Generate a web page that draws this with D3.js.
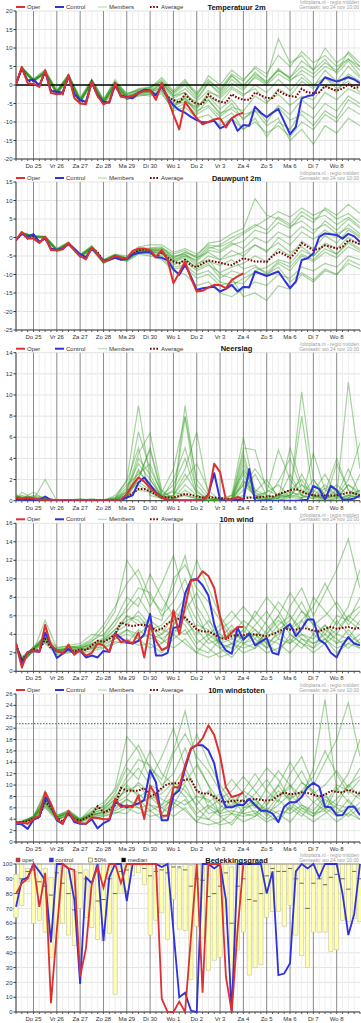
<!DOCTYPE html>
<html><head><meta charset="utf-8">
<script src="https://cdn.jsdelivr.net/npm/d3@7"></script>
<style>
body{margin:0;background:#fff}
svg{display:block;background:#fff}
text{font-family:"Liberation Sans",Arial,sans-serif}
</style>
</head><body>
<svg id="c" width="361" height="1023"></svg>
<script>
// ---------- DATA ----------
const hours = d3.range(0, 355, 6);                       // 60 six-hourly steps
const memberHours = [0].concat(d3.range(6, 355, 12));   // 31 steps for members
const dayHours = d3.range(18, 354, 24);
const dayLabels = ["Do 25","Vr 26","Za 27","Zo 28","Ma 29","Di 30","Wo 1","Do 2","Vr 3","Za 4","Zo 5","Ma 6","Di 7","Wo 8"];
const legendLabels = ["Oper","Control","Members","Average"];
const cloudLegendLabels = ["oper","control","50%","median"];
const titles = ["Temperatuur 2m","Dauwpunt 2m","Neerslag","10m wind","10m windstoten","Bedekkingsgraad"];
const creditLines = ["Infoplaza.nl - regio midden","Gemaakt: wo 24 nov 10:00"];

const tempOper = [0.2,4.9,0.5,0.3,-0.5,4.0,-2.2,-2.5,-2.3,2.7,-3.5,-5.0,-5.2,0.9,-3.0,-5.2,-4.5,0.5,-3.2,-3.4,-3.0,-2.2,-1.6,-1.5,-4.0,0.5,-3.6,-8.0,-12.0,-4.5,-6.8,-9.0,-10.6,-10.0,-9.3,-9.0,-11.5,-9.0,-8.0,-7.5];
const tempControl = [0.2,4.6,1.2,1.5,-0.2,3.6,-1.6,-1.8,-2.0,2.5,-2.5,-4.0,-4.6,0.8,-2.8,-4.5,-4.8,0.0,-3.0,-3.3,-3.6,-2.2,-1.3,-1.4,-2.8,-0.3,-3.5,-5.5,-6.8,-7.5,-8.6,-9.5,-10.1,-10.0,-9.7,-11.7,-11.0,-9.0,-12.4,-10.8,-11.0,-5.9,-7.5,-8.7,-7.5,-6.5,-9.9,-13.3,-11.3,-3.6,-3.0,-2.7,0.0,2.1,1.5,0.9,1.5,2.1,1.5,0.5];
const tempAvg = [0.3,4.5,1.0,1.2,0.0,3.5,-1.5,-2.0,-2.5,2.3,-2.5,-4.2,-4.8,0.8,-3.0,-4.7,-4.5,0.3,-3.0,-3.2,-3.2,-2.0,-1.5,-1.6,-3.0,-0.4,-3.2,-4.0,-4.8,-2.5,-4.2,-5.0,-5.2,-2.5,-3.8,-4.5,-4.8,-2.5,-3.5,-4.0,-4.0,-2.0,-2.8,-3.5,-3.5,-1.5,-2.5,-3.0,-3.2,-1.0,-2.0,-2.2,-2.0,-0.3,-1.0,-1.5,-1.0,0.2,-0.8,-0.5];
const tempMembers = [
[0.2,4.8,1.0,3.8,-2.3,2.0,-4.5,1.2,-5.0,0.6,-3.5,-1.8,-2.0,0.5,-3.0,-1.0,-4.0,0.5,-2.0,2.5,0.0,3.0,1.0,4.0,2.0,5.0,3.0,6.0,4.0,7.0,5.0],
[0.4,4.2,1.5,3.2,-1.8,2.8,-3.8,0.2,-4.2,-0.5,-3.8,-3.0,-2.5,-2.0,-7.0,-6.0,-9.0,-8.0,-11.0,-9.0,-12.0,-10.0,-13.0,-11.0,-14.0,-10.0,-12.0,-8.0,-10.0,-6.0,-8.0],
[0.3,4.6,1.3,3.0,-2.5,1.8,-5.0,1.5,-4.0,1.5,-2.5,-1.0,-0.5,1.0,-2.0,0.5,-2.5,1.0,-1.0,3.0,1.0,5.0,3.0,8.0,5.0,9.0,6.0,8.0,5.0,7.0,4.0],
[0.1,4.3,0.8,3.6,-2.0,2.5,-4.0,0.5,-5.5,-0.8,-4.0,-2.5,-3.0,-1.5,-6.0,-3.5,-7.5,-4.0,-8.0,-5.0,-9.5,-6.0,-10.0,-5.5,-8.0,-4.0,-6.5,-2.0,-4.0,-1.0,-2.5],
[0.5,4.9,1.6,4.2,-1.5,3.0,-3.5,1.6,-3.8,0.8,-2.2,-1.5,-0.8,2.0,-1.5,1.5,-3.0,2.5,0.0,4.0,1.5,4.5,2.0,12.5,6.0,8.0,4.0,7.0,3.0,6.5,2.5],
[0.2,4.4,1.1,3.3,-2.2,2.1,-4.4,0.6,-4.9,0.0,-3.4,-2.2,-1.8,-1.0,-5.0,-4.0,-7.0,-5.5,-8.5,-6.0,-7.0,-3.0,-5.0,-1.0,-3.0,1.0,-1.0,2.0,0.0,3.0,1.0],
[0.3,4.7,1.4,3.7,-1.9,2.6,-4.1,1.0,-4.5,0.4,-3.0,-2.1,-1.4,0.0,-3.5,-2.0,-6.0,-3.0,-6.5,-4.0,-8.0,-7.0,-11.0,-9.0,-15.0,-12.0,-16.0,-11.0,-13.0,-9.0,-11.0],
[0.3,4.5,1.2,3.4,-2.1,2.2,-4.3,0.7,-4.8,0.2,-3.1,-1.7,-1.2,0.5,-2.5,0.0,-3.5,0.5,-2.5,1.5,-1.0,2.0,0.0,3.0,1.0,4.0,2.0,5.0,3.5,9.0,6.0],
[0.2,4.1,0.9,3.1,-2.6,1.9,-4.8,0.1,-5.3,-0.4,-3.9,-2.8,-2.4,-2.5,-6.5,-5.0,-8.0,-6.0,-9.5,-7.5,-12.0,-9.0,-14.0,-10.0,-12.0,-7.0,-9.0,-5.0,-7.0,-3.0,-5.0],
[0.4,4.6,1.3,3.6,-1.7,2.4,-3.9,1.1,-4.4,0.7,-2.8,-1.2,-1.0,1.5,-2.0,1.0,-2.0,1.5,-1.5,2.5,-0.5,3.5,0.5,4.5,1.5,3.0,0.0,2.0,-1.0,1.0,-2.0],
[0.3,4.3,1.0,3.5,-2.4,2.0,-4.6,0.4,-4.6,0.1,-3.6,-2.4,-2.2,-1.5,-5.5,-4.5,-6.0,-3.0,-5.0,-1.0,-3.0,0.0,-2.0,1.5,-1.5,2.0,-0.5,4.0,1.0,5.0,2.0],
[0.2,4.8,1.5,3.9,-1.6,2.7,-3.6,1.3,-4.1,0.9,-2.6,-1.4,-0.6,0.8,-3.0,-2.0,-5.5,-4.0,-7.5,-6.5,-9.0,-7.0,-8.5,-6.0,-9.5,-8.0,-11.0,-7.0,-9.0,-4.0,-6.0],
[0.4,4.5,1.2,3.4,-2.0,2.3,-4.2,0.9,-4.7,0.5,-3.3,-2.0,-1.5,-0.5,-4.5,-3.0,-4.5,-1.5,-3.5,-0.5,-2.5,-1.0,-4.5,-2.5,-5.5,-3.0,-4.0,0.0,-2.0,2.5,0.5],
[0.3,4.4,1.1,3.2,-2.2,2.4,-4.4,0.6,-4.9,0.3,-3.3,-2.3,-1.9,-0.8,-5.5,-3.5,-6.5,-2.0,-3.0,0.5,-1.5,2.5,0.5,4.0,2.0,6.5,4.0,10.0,6.0,8.5,5.0]
];

const dewOper = [-0.7,1.5,-0.3,-0.3,-1.5,0.2,-3.4,-3.5,-3.2,-1.5,-3.4,-5.0,-5.9,-2.7,-4.5,-6.6,-6.0,-5.0,-5.5,-5.7,-3.6,-3.0,-3.0,-3.4,-5.3,-3.4,-6.1,-12.4,-9.5,-6.5,-11.0,-14.6,-14.4,-13.5,-12.8,-12.9,-13.7,-11.5,-10.5,-9.7];
const dewControl = [-0.7,1.0,0.2,0.9,-1.2,-0.3,-3.0,-3.4,-3.0,-1.8,-3.0,-4.5,-5.3,-3.0,-4.5,-6.3,-6.0,-5.5,-6.0,-5.8,-4.6,-4.2,-4.0,-4.0,-5.3,-5.5,-6.1,-8.6,-10.1,-7.4,-10.5,-14.2,-13.7,-13.5,-13.3,-14.6,-13.9,-12.8,-14.6,-13.3,-13.5,-9.2,-9.8,-10.4,-9.8,-9.2,-11.5,-13.7,-11.9,-6.1,-5.6,-4.3,0.2,1.1,0.9,0.7,-0.3,1.0,0.3,-1.2];
const dewAvg = [-0.7,1.2,-0.3,0.3,-1.3,0.0,-3.2,-3.4,-3.2,-1.6,-3.2,-5.0,-5.6,-2.8,-4.0,-6.5,-6.0,-5.0,-5.6,-5.8,-4.5,-3.5,-3.2,-3.6,-5.3,-4.0,-5.5,-6.5,-7.0,-6.0,-7.5,-8.0,-7.0,-6.2,-6.5,-6.8,-7.2,-7.5,-6.5,-5.6,-6.0,-6.5,-6.5,-6.6,-5.0,-3.9,-4.5,-5.6,-4.0,-1.5,-2.5,-3.4,-3.0,-2.1,-2.5,-3.0,-2.5,-0.7,-1.2,-1.8];
const dewMembers = [
[-0.6,1.4,0.5,0.3,-3.0,-1.2,-4.6,-2.2,-6.0,-4.5,-5.0,-2.5,-2.0,-2.0,-4.0,-3.0,-4.5,-2.0,-2.5,-1.0,1.0,3.0,5.0,7.0,5.5,8.0,6.0,7.5,5.0,6.5,4.0],
[-0.8,1.0,0.1,-0.3,-3.8,-2.0,-5.4,-3.3,-7.0,-5.5,-6.5,-4.5,-5.0,-6.0,-9.0,-10.0,-13.0,-12.0,-15.0,-16.0,-14.0,-12.0,-13.0,-10.0,-11.0,-8.0,-9.0,-7.0,-8.0,-5.0,-6.0],
[-0.7,1.3,0.4,0.2,-3.2,-1.4,-4.8,-2.6,-6.2,-4.8,-5.5,-3.0,-2.8,-2.5,-5.5,-4.0,-5.0,-1.5,-1.0,1.0,2.5,10.5,6.0,5.0,3.0,4.5,2.0,3.5,1.0,2.5,0.5],
[-0.7,1.1,0.2,-0.2,-3.5,-1.8,-5.2,-3.0,-6.8,-5.2,-6.0,-4.0,-4.2,-5.0,-8.0,-7.5,-10.0,-9.0,-12.0,-13.0,-11.0,-9.5,-10.0,-7.0,-9.0,-5.0,-6.5,-4.0,-5.5,-2.5,-4.0],
[-0.6,1.2,0.3,0.1,-3.3,-1.5,-4.9,-2.7,-6.3,-5.0,-5.8,-3.2,-3.5,-3.5,-6.0,-4.5,-6.5,-3.5,-4.0,-2.0,-1.0,2.0,1.0,4.0,2.5,6.0,4.0,8.0,6.0,9.0,6.5],
[-0.8,1.2,0.4,0.0,-3.6,-1.7,-5.1,-2.9,-6.7,-5.3,-6.2,-3.8,-3.8,-4.5,-7.0,-6.5,-9.0,-7.5,-9.5,-8.0,-7.0,-5.0,-6.5,-3.0,-5.0,-1.0,-3.0,0.5,-1.5,2.0,0.0],
[-0.7,1.3,0.3,0.2,-3.1,-1.6,-4.7,-2.5,-6.1,-4.7,-5.6,-3.3,-3.2,-3.0,-5.0,-4.5,-7.0,-6.0,-10.0,-11.0,-16.0,-15.0,-17.0,-13.0,-14.0,-10.0,-12.0,-9.0,-10.0,-7.0,-8.5],
[-0.6,1.1,0.2,0.1,-3.4,-1.6,-5.0,-2.8,-6.4,-4.9,-5.9,-3.6,-3.7,-3.8,-6.5,-5.0,-6.0,-3.0,-2.0,0.0,1.5,3.5,2.0,5.5,3.5,7.0,5.0,6.0,3.5,5.5,3.0],
[-0.7,1.0,0.1,-0.1,-3.7,-1.9,-5.3,-3.1,-6.9,-5.4,-6.3,-4.2,-4.5,-5.5,-8.5,-8.0,-11.0,-10.0,-13.0,-12.0,-12.5,-9.0,-8.0,-6.0,-7.0,-3.5,-5.0,-1.5,-3.0,0.0,-2.0],
[-0.7,1.3,0.4,0.3,-3.2,-1.3,-4.8,-2.4,-6.1,-4.6,-5.4,-3.0,-3.0,-2.8,-4.5,-3.5,-5.5,-4.0,-6.0,-5.0,-4.0,-2.0,-3.5,-1.5,-4.0,-2.5,-5.0,-2.0,-4.5,-1.5,-3.5],
[-0.8,1.2,0.3,0.0,-3.5,-1.6,-5.0,-2.8,-6.6,-5.0,-6.0,-3.5,-4.0,-4.2,-7.5,-6.0,-8.0,-6.5,-7.5,-6.0,-8.5,-7.5,-10.0,-8.0,-12.0,-9.5,-11.5,-8.5,-10.0,-6.0,-7.5],
[-0.6,1.3,0.4,0.2,-3.2,-1.4,-4.8,-2.6,-6.2,-4.7,-5.7,-3.4,-3.3,-3.2,-5.5,-4.0,-5.5,-2.5,-3.5,-1.5,-3.0,0.0,-1.5,1.5,0.0,3.0,1.0,4.5,2.0,5.0,2.5],
[-0.7,1.2,0.3,0.1,-3.4,-1.6,-5.0,-2.8,-6.5,-5.0,-5.9,-3.6,-3.8,-4.0,-6.5,-5.5,-8.5,-7.0,-11.0,-9.0,-10.0,-8.0,-9.5,-6.5,-8.0,-4.5,-6.0,-3.0,-4.5,-1.0,-3.0],
[-0.7,1.1,0.2,0.0,-3.4,-1.7,-5.1,-2.9,-6.6,-5.1,-6.0,-3.7,-3.5,-3.5,-6.0,-5.0,-7.5,-5.0,-6.0,-3.5,-5.0,-2.0,-4.0,0.0,-2.0,1.5,-0.5,2.0,0.0,3.5,1.0]
];

const rainOper = [0.3,0.2,0.3,0.2,0.1,0.1,0.1,0.05,0.05,0.05,0.05,0.05,0.05,0.05,0.05,0.05,0.05,0.05,0.1,0.6,1.5,2.2,1.8,1.2,0.7,0.3,0.1,0.05,0.05,0.05,0.05,0.05,0.1,0.5,3.5,2.7,0.1,0.1,0.35,0.15];
const rainControl = [0.1,0.1,0.05,0.05,0.05,0.4,0.05,0,0,0,0,0,0,0,0,0,0,0,0.05,0.3,0.5,1.7,2.2,1.5,0.8,0.3,0.1,0.05,0,0,0,0,0.05,0.6,2.6,0.1,0,0,0.1,0.1,3.0,0,0,0.05,0,0,0,0,0,0.05,0.1,1.4,1.1,0.1,1.4,1.0,0.1,0.1,0.2,0.5];
const rainAvg = [0.15,0.15,0.15,0.15,0.1,0.1,0.1,0.05,0.05,0.05,0.05,0.05,0.05,0.05,0.05,0.05,0.05,0.05,0.1,0.3,0.7,1.1,1.1,0.9,0.6,0.35,0.3,0.3,0.45,0.65,0.55,0.4,0.3,0.3,0.3,0.25,0.2,0.15,0.1,0.2,0.3,0.3,0.35,0.4,0.4,0.6,0.8,1.0,1.1,0.9,0.6,0.5,0.5,0.5,0.5,0.5,0.6,0.8,0.7,0.5];
const rainMembers = [
[0.3,0.2,0.1,0,0,0,0,0,0,0.1,0.5,3.0,1.2,0.3,0.5,2.5,0.8,0.2,0,0.1,0.5,0.2,0.8,1.5,0.3,2.5,0.5,0.2,1.0,0.3,0.5],
[0.5,0.3,0.2,0.1,0,0,0,0,0,0.2,2.0,9.0,2.0,0.5,1.5,4.0,0.5,0,0,0.3,1.5,0.5,0.2,0,0.5,10.3,2.0,0.5,0.3,1.5,0.5],
[0.1,0.8,0.2,0,0,0.1,0,0,0,0,0.8,4.5,6.4,1.0,0.2,0,0,0,0.2,0.5,6.0,0.8,0.2,1.8,4.0,1.0,0.5,0,0.2,0.5,1.0],
[0.2,0.1,0.5,0.3,0,0,0,0,0.1,0.3,1.5,2.5,3.5,0.5,0.2,9.0,1.5,0.2,0,0,2.0,0.3,0,0.5,1.0,0.2,4.5,1.0,0.3,0.2,2.5],
[0.4,0.2,0.1,0,0,0,0.2,0,0,0,0.3,2.0,5.0,0.8,3.0,8.0,2.0,0.5,0,0,3.0,1.0,0.5,0.3,0.5,0.3,0.5,1.5,0.5,11.2,3.0],
[0.3,0.4,0.3,0.2,0,0,0,0,0,0.1,1.0,1.5,0.8,0.2,0,0,0.1,0,0,0.2,4.5,0.5,0.8,4.8,2.0,0.5,0.2,0,3.5,1.0,0.2],
[0.2,0.3,0.1,0,0,0,0,0,0,0.2,0.5,4.0,2.5,0.3,1.0,3.0,6.5,0.5,0,0,1.0,2.5,0.5,0.2,5.0,1.5,0.3,0.2,0,0.5,0.3],
[0.6,0.2,0.8,0.1,0,0,0,0.2,0,0,0.2,2.8,1.5,0.5,0.8,0.5,0.2,0,0,0.1,2.5,0.2,0,0.5,0.5,1.5,0.8,2.5,0.5,0,0.5],
[0.3,0.2,0.2,0.1,0.1,0,0,0,0,0.5,1.8,5.0,0.5,0.2,0,7.9,0.5,0,0,0,3.5,0.3,0.2,0.2,0.5,8.0,0.5,0.3,0.2,1.5,0.8],
[0.2,0.2,0.1,2.0,0,0,0,0,0,0,0.5,1.0,0.8,0.2,0.5,2.0,3.5,1.0,0,0.2,5.0,4.8,1.0,0.5,0.3,0.2,1.0,0.3,0.5,2.0,5.5],
[0.4,0.3,0.2,0.1,0,0,0,0,0,0.2,1.2,3.5,2.0,0.3,0.2,0.5,0.2,0,0.3,0,4.0,0.5,0.3,0.2,2.5,0.5,0.2,0.8,4.0,1.0,0.5],
[0.2,0.1,0.3,0.2,0,0,0,0,0,0,0.3,2.2,4.8,0.5,0,1.0,0.3,0,0,0.5,2.8,0.3,0,0,0.3,0.8,0.5,0.2,0.5,3.0,0.5],
[0.3,0.5,0.2,0.1,0,0,0,0,0,0.1,0.8,1.8,1.0,0.2,2.0,5.0,1.0,0,0,0,1.5,3.0,1.5,0.5,1.0,2.0,0.3,1.2,0.5,0.2,1.0],
[0.5,0.2,0.4,0.2,0,0,0,0,0,0.3,0.8,6.5,3.0,0.8,0.2,1.5,0.5,0.2,0,0,1.8,0.8,2.0,0.3,0.8,0.5,2.0,0.5,1.5,0.5,0.3]
];

const windOper = [3.0,0.4,2.1,2.2,2.1,5.0,2.8,2.25,1.9,2.9,1.8,2.3,1.7,2.0,3.0,2.8,2.1,4.0,3.15,3.3,3.0,4.2,1.5,5.0,3.3,2.3,2.6,6.6,4.0,7.0,9.8,9.9,10.8,10.3,9.0,5.9,3.5,4.2,4.8,4.8];
const windControl = [3.0,0.8,2.1,2.2,2.1,4.2,2.8,1.45,1.9,2.4,1.9,2.25,1.5,1.7,1.5,2.2,2.1,4.1,3.6,3.1,3.0,3.3,4.0,6.2,1.7,1.7,2.0,4.7,4.8,8.4,9.85,10.0,9.3,8.2,5.1,3.2,2.25,1.9,4.7,3.4,4.1,2.8,3.2,3.6,2.0,1.8,4.6,5.1,3.8,4.6,5.6,5.6,3.4,3.0,2.0,1.5,2.8,3.7,3.0,2.8];
const windAvg = [2.8,1.2,2.0,2.4,2.2,3.5,2.5,2.2,2.0,2.4,2.1,2.4,2.3,2.8,3.3,3.2,3.5,4.0,5.3,5.0,4.9,5.0,5.0,4.8,4.4,4.6,5.2,5.5,5.7,5.8,5.2,4.5,4.3,4.3,4.0,3.6,3.5,3.8,3.9,3.9,4.0,4.0,3.9,3.8,4.0,4.3,4.6,4.5,4.5,4.7,4.6,4.4,4.3,4.6,4.8,4.6,4.7,4.8,4.6,4.7];
const windMembers = [
[2.9,0.8,2.3,4.0,2.0,2.6,2.8,3.5,5.0,7.0,9.5,11.0,8.0,6.5,9.0,12.5,7.0,5.0,3.0,2.5,4.0,6.5,5.0,3.5,7.0,9.0,6.0,8.5,11.0,14.3,9.0],
[2.7,1.5,2.5,3.2,2.4,2.2,2.0,2.2,2.5,3.0,3.5,2.8,3.0,2.0,3.5,4.5,2.5,2.0,3.5,5.0,3.0,2.5,4.5,6.0,4.0,3.0,2.5,3.5,2.5,3.0,4.0],
[2.8,1.0,2.2,5.5,2.5,2.8,3.0,4.0,3.8,5.5,8.0,7.0,10.5,8.0,6.0,8.0,12.0,9.0,6.0,4.0,3.5,5.0,6.5,4.5,5.5,7.5,5.0,6.0,7.5,5.5,8.0],
[3.0,1.3,2.6,3.0,1.8,2.0,2.2,2.5,3.5,4.5,6.0,5.5,4.0,3.0,4.0,3.0,2.0,3.5,2.5,1.5,3.0,4.0,2.5,4.5,3.0,5.5,4.0,3.0,5.5,4.0,3.0],
[2.6,1.1,2.4,3.6,2.3,2.5,2.6,3.2,4.5,6.5,12.0,10.0,7.0,9.5,12.5,8.0,5.5,4.0,5.0,6.5,5.0,3.5,5.5,7.5,6.0,4.5,8.0,6.5,5.0,7.0,11.0],
[2.8,1.4,2.1,3.4,2.1,2.3,2.4,2.6,3.0,3.5,4.0,3.5,2.5,3.0,5.0,6.5,8.5,6.0,2.5,3.0,2.0,2.5,3.5,3.0,2.0,3.5,2.5,4.5,3.5,2.5,3.5],
[2.9,1.2,2.7,3.8,2.6,2.7,2.5,3.0,3.6,5.0,7.0,9.0,8.5,6.0,7.5,10.0,6.5,3.5,4.5,5.5,7.0,5.5,4.0,6.0,8.5,6.5,5.0,3.5,4.5,6.0,5.0],
[2.7,0.9,2.3,3.3,2.0,2.1,2.3,2.4,2.8,3.5,4.5,4.0,5.0,3.5,2.5,3.5,2.0,1.5,2.0,3.0,4.5,3.0,2.0,2.5,3.5,2.5,4.0,5.0,3.0,3.5,2.5],
[2.8,1.6,2.5,3.7,2.2,2.6,2.7,3.3,4.0,5.5,6.5,8.0,6.0,5.5,10.0,11.5,9.0,7.5,5.5,3.5,4.5,6.0,8.0,6.5,4.5,5.5,7.0,9.5,7.0,5.0,6.5],
[3.0,1.0,2.2,3.1,2.3,2.4,2.1,2.5,2.6,3.2,3.0,4.5,3.5,4.0,6.0,5.0,3.0,4.0,3.0,4.5,3.5,4.5,3.0,4.0,5.0,3.5,3.0,4.0,3.0,4.5,3.0],
[2.9,1.3,2.6,3.5,2.2,2.5,2.4,2.9,3.3,4.5,5.5,6.0,4.5,5.0,6.5,5.5,4.0,5.5,4.0,3.0,2.5,3.0,4.0,5.5,4.5,6.5,5.5,4.0,6.0,5.5,4.5],
[2.7,1.2,2.4,3.9,2.1,2.3,2.5,3.0,3.4,4.0,6.0,5.0,5.5,4.5,4.0,6.0,3.5,2.5,1.5,2.0,3.5,4.0,3.0,2.0,4.0,3.0,2.0,3.0,4.0,3.5,5.5],
[2.8,1.1,2.5,3.4,2.4,2.6,2.6,2.8,3.1,4.2,5.0,6.5,5.0,4.0,5.0,7.5,4.5,3.0,3.5,4.0,5.5,4.5,3.5,5.0,6.0,4.0,3.5,5.0,4.0,6.0,7.0],
[2.8,1.4,2.3,3.6,2.3,2.4,2.3,2.7,3.2,3.8,4.5,3.5,4.0,3.5,4.5,4.0,5.0,4.5,3.0,3.5,3.0,3.5,2.5,3.5,3.0,4.0,3.0,3.5,2.0,3.0,2.5]
];

const gustOper = [3.3,3.4,3.2,4.05,4.6,8.75,6.7,4.05,3.2,5.5,3.8,3.3,3.2,4.3,4.2,4.0,4.0,7.6,6.1,6.4,6.1,8.2,4.05,9.9,8.2,4.6,4.6,9.6,9.6,13.5,16.4,17.0,18.2,20.5,18.8,15.2,9.6,7.9,8.2,8.7];
const gustControl = [3.2,3.1,2.3,3.9,4.4,7.9,6.5,3.8,3.2,5.3,3.5,3.2,3.2,4.0,2.4,3.3,3.8,7.0,6.5,6.1,6.4,6.8,7.4,12.6,10.5,3.8,3.8,8.2,9.1,12.9,16.4,17.0,17.0,16.1,13.8,8.75,6.1,6.1,6.5,6.5,7.6,6.5,5.5,5.5,5.0,3.5,6.2,7.0,7.0,7.9,9.6,10.4,9.7,6.2,6.1,4.7,4.7,6.2,6.2,4.7];
const gustAvg = [3.4,3.5,3.6,4.2,4.3,7.2,6.0,4.3,3.6,5.0,4.0,3.8,4.2,4.8,6.3,5.2,5.6,6.5,9.5,9.0,9.0,9.0,9.5,8.0,8.5,9.5,10.2,10.3,10.3,11.0,11.0,9.0,8.5,8.5,8.0,7.2,7.0,7.2,7.3,7.2,7.4,7.6,7.4,7.3,7.4,8.2,8.7,8.4,8.5,8.7,8.6,8.3,8.0,8.3,9.0,8.8,8.7,9.2,8.8,8.5];
const gustMembers = [
[3.5,3.6,4.5,8.0,4.5,5.5,4.0,5.5,7.0,9.0,14.0,17.0,13.0,11.0,16.0,23.0,14.0,10.0,7.0,6.0,9.0,12.0,9.0,7.0,12.0,15.0,10.0,14.0,18.0,24.5,15.0],
[3.3,3.4,4.0,6.5,4.0,4.5,3.5,4.0,4.5,5.0,6.0,5.0,5.5,4.0,6.0,7.5,4.5,4.0,6.0,8.0,5.0,4.5,7.5,10.0,7.0,5.5,4.5,6.0,4.5,5.0,7.0],
[3.4,3.5,4.3,9.0,4.8,5.2,4.0,6.0,6.0,8.5,13.0,11.0,16.0,12.0,10.0,13.0,19.0,14.0,10.0,7.0,6.5,8.5,11.0,8.0,9.5,12.5,8.5,10.0,12.5,9.5,13.0],
[3.6,3.3,4.6,6.0,3.8,4.8,3.6,4.5,5.5,7.0,9.5,8.5,6.5,5.0,7.0,5.5,3.5,6.0,4.5,3.0,5.5,7.0,4.5,7.5,5.5,9.0,7.0,5.5,9.5,7.0,5.5],
[3.2,3.5,4.1,7.5,4.4,5.0,3.7,5.2,6.5,9.5,18.5,16.0,11.0,15.0,20.0,13.0,9.0,7.0,8.5,11.0,8.5,6.0,9.5,12.5,10.0,8.0,13.0,25.0,9.0,12.0,18.0],
[3.4,3.7,4.4,6.8,4.2,5.3,3.9,4.9,5.0,5.5,6.5,6.0,4.5,5.0,8.5,10.5,13.5,10.0,4.5,5.0,3.5,4.5,6.0,5.0,3.5,6.0,4.5,7.5,6.0,4.5,6.0],
[3.5,3.4,4.2,7.8,4.6,5.6,4.1,5.0,5.8,7.5,11.5,14.5,13.5,10.0,12.0,16.5,11.0,6.0,7.5,9.0,11.5,9.0,6.5,10.0,14.0,10.5,8.5,6.0,7.5,10.0,8.0],
[3.3,3.6,3.9,6.2,4.1,4.7,3.6,4.4,4.8,5.8,7.5,6.5,8.0,6.0,4.5,6.0,3.5,3.0,3.5,5.0,7.5,5.0,3.5,4.5,6.0,4.5,7.0,8.5,5.0,6.0,4.0],
[3.4,3.5,4.5,8.5,4.3,5.4,3.8,5.3,6.2,8.0,10.5,13.0,10.0,9.0,15.5,19.0,15.0,12.5,9.0,6.0,7.5,10.0,13.0,11.0,7.5,9.0,11.5,16.0,12.0,8.5,11.0],
[3.6,3.3,4.0,6.6,4.4,4.9,3.5,4.6,4.6,5.2,5.0,7.5,5.5,6.5,10.0,8.0,5.0,6.5,5.0,7.5,6.0,7.5,5.0,6.5,8.5,6.0,5.0,6.5,5.0,7.5,5.0],
[3.5,3.5,4.3,7.0,4.3,5.0,3.9,5.0,5.7,7.5,9.0,10.0,7.5,8.5,10.5,9.0,6.5,9.0,6.5,5.0,4.5,5.0,6.5,9.0,7.5,10.5,9.0,6.5,10.0,9.0,7.5],
[3.3,3.4,4.2,7.6,4.0,4.8,3.8,4.7,5.3,6.5,10.0,8.0,9.0,7.5,6.5,10.0,6.0,4.0,3.0,3.5,6.0,6.5,5.0,3.5,6.5,5.0,3.5,5.0,6.5,6.0,9.0],
[3.4,3.6,4.1,6.9,4.5,5.1,3.8,4.8,5.0,6.8,8.0,10.5,8.5,6.5,8.0,12.0,7.5,5.0,5.5,6.5,9.0,7.5,5.5,8.0,10.0,6.5,5.5,8.0,6.5,10.0,11.5],
[3.4,3.5,4.4,7.3,4.2,5.2,3.7,4.9,5.2,6.2,7.5,6.0,6.5,6.0,7.5,6.5,8.0,7.5,5.0,5.5,5.0,5.5,4.0,5.5,5.0,6.5,5.0,5.5,3.5,5.0,4.0]
];
const gustThreshold = [20.8];

const cloudOper = [80,87,90,100,71,94,6,55,100,97,96,24,43,87,98,84,100,100,87,100,100,100,100,100,100,9,0,0,7,0,50,100,13,100,100,100,24,0,55,100];
const cloudControl = [71,89,91,100,95,89,47,100,100,97,76,19,91,87,100,48,91,100,100,75,100,100,100,100,100,98,100,55,10,13,1,0,100,100,97,100,76,0,100,100,100,100,100,80,95,25,26,33,95,100,97,100,91,100,100,100,80,52,66,100];
const cloudQ75 = [93,100,97,100,100,97,91,100,100,100,95,100,96,100,100,100,100,100,100,100,100,100,100,100,97,100,100,100,97,100,99,100,100,100,100,100,100,98,100,100,100,100,100,100,100,100,100,100,100,100,100,100,100,100,100,100,100,100,100,100];
const cloudQ25 = [64,72,88,60,62,54,37,50,60,52,45,70,64,57,49,48,53,12,80,82,92,94,86,52,62,67,49,76,56,55,22,58,50,28,35,37,60,10,42,54,25,30,32,64,68,68,58,72,52,38,30,54,54,54,41,42,62,61,63,61];
const cloudMedian = [80,90,95,96,88,85,79,94,87,80,69,94,90,88,75,76,90,80,95,96,100,100,97,92,95,96,94,98,98,96,85,90,89,78,80,85,94,60,85,90,76,75,80,92,97,95,95,97,90,87,70,87,90,86,91,93,90,83,95,90];

// ---------- DRAWING ----------
const svg = d3.select("#c");
const L = 16, R = 360, PH = 148;
const x = d3.scaleLinear().domain([0, 354]).range([L, R]);
const COL = {oper:"#dd3030", ctrl:"#3030dd", mem:"#2f9a1c", avg:"#7a0000"};

function frame(top, domain, step) {
  const y = d3.scaleLinear().domain(domain).range([top + PH, top]);
  const g = svg.append("g");
  const ticks = d3.range(domain[0], domain[1] + step / 2, step);
  g.selectAll(null).data(ticks).join("line")
    .attr("x1", L).attr("x2", R).attr("y1", d => y(d)).attr("y2", d => y(d))
    .attr("stroke", "#e3e3e3").attr("stroke-width", 1);
  g.selectAll(null).data(hours.filter(h => (h - 18) % 24 !== 0)).join("line")
    .attr("x1", d => x(d)).attr("x2", d => x(d)).attr("y1", top).attr("y2", top + PH)
    .attr("stroke", "#eeeeee").attr("stroke-width", 1);
  g.selectAll(null).data(dayHours).join("line")
    .attr("x1", d => x(d)).attr("x2", d => x(d)).attr("y1", top).attr("y2", top + PH)
    .attr("stroke", "#8a8a8a").attr("stroke-width", 1);
  g.append("line").attr("x1", L).attr("x2", L).attr("y1", top).attr("y2", top + PH).attr("stroke", "#333");
  g.append("line").attr("x1", L).attr("x2", R).attr("y1", top + PH).attr("y2", top + PH).attr("stroke", "#333");
  g.selectAll(null).data(ticks).join("line")
    .attr("x1", L - 2.5).attr("x2", L).attr("y1", d => y(d)).attr("y2", d => y(d)).attr("stroke", "#333");
  g.selectAll(null).data(ticks).join("text")
    .attr("x", L - 3.5).attr("y", d => y(d)).attr("dy", "0.35em")
    .attr("text-anchor", "end").attr("font-size", 6).attr("fill", "#333").text(d => d);
  g.selectAll(null).data(hours).join("line")
    .attr("x1", d => x(d)).attr("x2", d => x(d)).attr("y1", top + PH).attr("y2", top + PH + 2).attr("stroke", "#555");
  g.selectAll(null).data(dayHours).join("text")
    .attr("x", d => x(d)).attr("y", top + PH + 9).attr("text-anchor", "middle")
    .attr("font-size", 6).attr("fill", "#333").text((d, i) => dayLabels[i]);
  g.append("text").attr("x", 359).attr("y", top - 6.6).attr("text-anchor", "end")
    .attr("font-size", 5).attr("fill", "#a0a0a0").text(creditLines[0]);
  g.append("text").attr("x", 359).attr("y", top - 2).attr("text-anchor", "end")
    .attr("font-size", 5).attr("fill", "#a0a0a0").text(creditLines[1]);
  return {g, y};
}

function lineLegend(g, top, title) {
  const ly = top - 4;
  const items = [
    {x:16, c:COL.oper, w:2, dash:null},
    {x:55, c:COL.ctrl, w:2, dash:null},
    {x:98, c:"#b9dfb0", w:1.2, dash:null},
    {x:150, c:COL.avg, w:2, dash:"1.6,1.6"}
  ];
  items.forEach((it, i) => {
    g.append("line").attr("x1", it.x).attr("x2", it.x + 9).attr("y1", ly).attr("y2", ly)
      .attr("stroke", it.c).attr("stroke-width", it.w).attr("stroke-dasharray", it.dash);
    g.append("text").attr("x", it.x + 11).attr("y", ly + 2.1).attr("font-size", 6)
      .attr("fill", "#333").text(legendLabels[i]);
  });
  g.append("text").attr("x", 236.5).attr("y", ly + 2.7).attr("text-anchor", "middle")
    .attr("font-size", 7.5).attr("font-weight", "bold").attr("fill", "#111").text(title);
}

function seriesPanel(top, domain, step, title, oper, ctrl, avg, members, opts) {
  const {g, y} = frame(top, domain, step);
  const clip = "clip" + Math.round(top);
  svg.append("clipPath").attr("id", clip).append("rect")
    .attr("x", L).attr("y", top).attr("width", R - L).attr("height", PH);
  const pg = g.append("g").attr("clip-path", `url(#${clip})`);
  const mline = d3.line().x((d, i) => x(memberHours[i])).y(d => y(d));
  const sline = d3.line().x((d, i) => x(hours[i])).y(d => y(d));
  pg.selectAll(null).data(members).join("path").attr("d", mline)
    .attr("fill", "none").attr("stroke", COL.mem).attr("stroke-width", 1.2).attr("stroke-opacity", 0.42);
  if (opts && opts.zero) {
    pg.append("line").attr("x1", L).attr("x2", R).attr("y1", y(0)).attr("y2", y(0))
      .attr("stroke", "#000").attr("stroke-width", 1.5);
  }
  if (opts && opts.threshold) {
    pg.selectAll(null).data(opts.threshold).join("line").attr("x1", L).attr("x2", R)
      .attr("y1", d => y(d)).attr("y2", d => y(d))
      .attr("stroke", "#3f8a93").attr("stroke-width", 1.2).attr("stroke-dasharray", "1.5,1.5");
  }
  pg.append("path").attr("d", sline(avg)).attr("fill", "none").attr("stroke", COL.avg)
    .attr("stroke-width", 2).attr("stroke-dasharray", "1.6,1.6");
  pg.append("path").attr("d", sline(ctrl)).attr("fill", "none").attr("stroke", COL.ctrl)
    .attr("stroke-width", 2).attr("stroke-linejoin", "round");
  pg.append("path").attr("d", sline(oper)).attr("fill", "none").attr("stroke", COL.oper)
    .attr("stroke-width", 2).attr("stroke-linejoin", "round");
  lineLegend(g, top, title);
}

seriesPanel(11, [-20, 20], 5, titles[0], tempOper, tempControl, tempAvg, tempMembers, {zero:true});
seriesPanel(182, [-25, 15], 5, titles[1], dewOper, dewControl, dewAvg, dewMembers);
seriesPanel(352.7, [0, 14], 2, titles[2], rainOper, rainControl, rainAvg, rainMembers);
seriesPanel(523.3, [0, 16], 2, titles[3], windOper, windControl, windAvg, windMembers);
seriesPanel(694, [0, 26], 2, titles[4], gustOper, gustControl, gustAvg, gustMembers, {threshold: gustThreshold});

// cloud cover panel
(function () {
  const top = 864;
  const {g, y} = frame(top, [0, 100], 10);
  const bw = 4.2;
  g.selectAll(null).data(hours).join("rect")
    .attr("x", d => x(d) - bw / 2).attr("width", bw)
    .attr("y", (d, i) => y(cloudQ75[i])).attr("height", (d, i) => y(cloudQ25[i]) - y(cloudQ75[i]))
    .attr("fill", "#ffffb0").attr("stroke", "#c4c4a4").attr("stroke-width", 0.6);
  g.selectAll(null).data(hours).join("line")
    .attr("x1", d => x(d) - bw / 2).attr("x2", d => x(d) + bw / 2)
    .attr("y1", (d, i) => y(cloudMedian[i])).attr("y2", (d, i) => y(cloudMedian[i]))
    .attr("stroke", "#666").attr("stroke-width", 1);
  g.append("line").attr("x1", L).attr("x2", R).attr("y1", y(100)).attr("y2", y(100)).attr("stroke", "#999");
  const sline = d3.line().x((d, i) => x(hours[i])).y(d => y(d));
  g.append("path").attr("d", sline(cloudControl)).attr("fill", "none").attr("stroke", COL.ctrl).attr("stroke-width", 1.8);
  g.append("path").attr("d", sline(cloudOper)).attr("fill", "none").attr("stroke", COL.oper).attr("stroke-width", 1.8);
  const ly = top - 4;
  const items = [
    {x:16, c:COL.oper}, {x:49.3, c:COL.ctrl}, {x:88.3, c:"#ffffb0"}, {x:121.7, c:"#000"}
  ];
  items.forEach((it, i) => {
    g.append("rect").attr("x", it.x).attr("y", ly - 2).attr("width", 4).attr("height", 4)
      .attr("fill", it.c).attr("stroke", "#555").attr("stroke-width", 0.5);
    g.append("text").attr("x", it.x + 6).attr("y", ly + 2.1).attr("font-size", 6)
      .attr("fill", "#333").text(cloudLegendLabels[i]);
  });
  g.append("text").attr("x", 236.5).attr("y", ly + 2.7).attr("text-anchor", "middle")
    .attr("font-size", 7.5).attr("font-weight", "bold").attr("fill", "#111").text(titles[5]);
})();
</script>
</body></html>
